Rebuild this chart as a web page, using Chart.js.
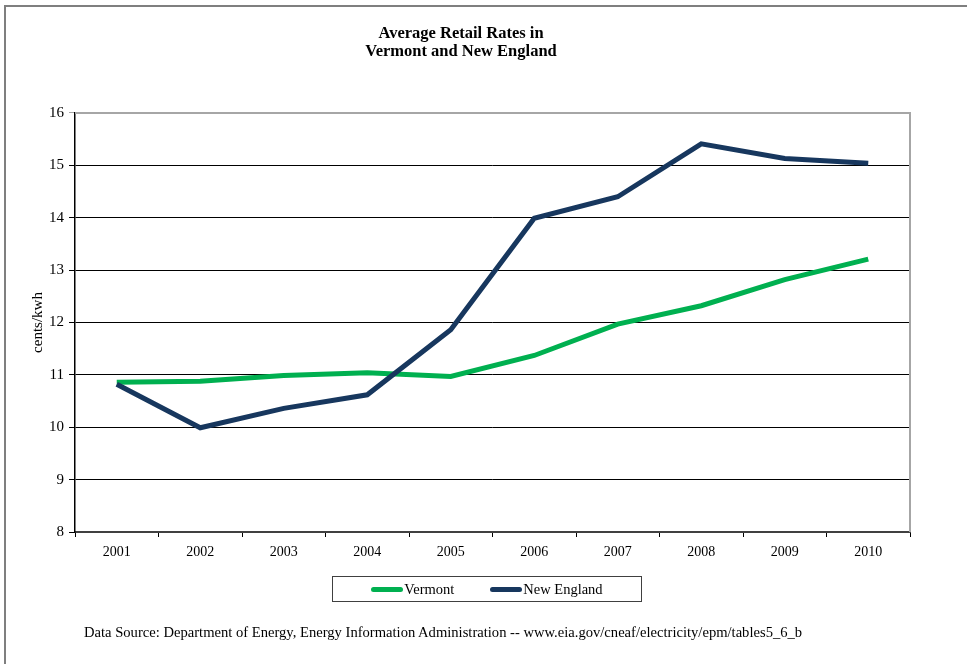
<!DOCTYPE html>
<html>
<head>
<meta charset="utf-8">
<script src="https://cdn.jsdelivr.net/npm/chart.js@4/dist/chart.umd.min.js"></script>
<style>
  body { margin: 0; background: #fff; }
  #wrap { position: relative; width: 967px; height: 664px; overflow: hidden; }
  #frame { position: absolute; left: 4px; top: 5px; width: 1000px; height: 700px;
           border-top: 2px solid #7f7f7f; border-left: 2px solid #7f7f7f; }
  #chart { position: absolute; left: 0; top: 0; }
  #legend { position: absolute; left: 332px; top: 576px; width: 308px; height: 24px;
            border: 1px solid #404040; display: flex; justify-content: center; align-items: center;
            font: 14.5px "Liberation Serif", serif; color: #000; }
  #legend span.sw { display: inline-block; width: 32px; height: 5px; border-radius: 3px; margin-right: 1px; }
  #legend span.item { display: inline-flex; align-items: center; margin: 0 18px; }
  #source { position: absolute; left: 84px; top: 624px; font: 14.6px "Liberation Serif", serif; color: #000;
            white-space: nowrap; }
</style>
</head>
<body>
<div id="wrap">
  <div id="frame"></div>
  <canvas id="chart" width="967" height="664"></canvas>
  <div id="legend"></div>
  <div id="source">Data Source: Department of Energy, Energy Information Administration -- www.eia.gov/cneaf/electricity/epm/tables5_6_b</div>
</div>
<script>
var years = ['2001', '2002', '2003', '2004', '2005', '2006', '2007', '2008', '2009', '2010'];
var vermont = [10.86, 10.88, 10.99, 11.04, 10.97, 11.37, 11.97, 12.32, 12.82, 13.21];
var newEngland = [10.82, 9.99, 10.36, 10.62, 11.86, 13.99, 14.40, 15.41, 15.13, 15.04];
var yMin = 8, yMax = 16, yStep = 1;

// gray border on top and right of the plot area
var plotFrame = {
    id: 'plotFrame',
    beforeDatasetsDraw: function(chart) {
        var a = chart.chartArea, ctx = chart.ctx;
        ctx.save();
        ctx.strokeStyle = '#a6a6a6';
        ctx.lineWidth = 2;
        ctx.beginPath();
        ctx.moveTo(a.left, a.top);
        ctx.lineTo(a.right, a.top);
        ctx.lineTo(a.right, a.bottom);
        ctx.stroke();
        ctx.restore();
    }
};

var ctx = document.getElementById('chart').getContext('2d');
var chart = new Chart(ctx, {
    type: 'line',
    data: {
        labels: years,
        datasets: [
            {
                label: 'Vermont',
                data: vermont,
                borderColor: '#00b050',
                backgroundColor: '#00b050',
                borderWidth: 5,
                pointRadius: 0,
                tension: 0,
                order: 1
            },
            {
                label: 'New England',
                data: newEngland,
                borderColor: '#17375e',
                backgroundColor: '#17375e',
                borderWidth: 5,
                pointRadius: 0,
                tension: 0,
                order: 0
            }
        ]
    },
    options: {
        responsive: false,
        animation: false,
        layout: { padding: { left: 12, right: 57, top: 0, bottom: 102 } },
        scales: {
            x: {
                offset: true,
                afterFit: function(scale) { scale.height = 30; },
                grid: { offset: true, drawOnChartArea: false, tickLength: 5, color: '#000' },
                border: { color: '#404040', width: 2 },
                ticks: { color: '#000', padding: 7, font: { family: 'Liberation Serif', size: 14 } }
            },
            y: {
                min: yMin,
                max: yMax,
                afterFit: function(scale) { scale.width = 63; },
                ticks: { stepSize: yStep, color: '#000', padding: 5, font: { family: 'Liberation Serif', size: 15 } },
                grid: {
                    tickLength: 6,
                    color: function(c) { return c.tick && c.tick.value === yMax ? '#a6a6a6' : '#000'; }
                },
                border: { color: '#000', width: 1.5 },
                title: {
                    display: true,
                    text: 'cents/kwh',
                    color: '#000',
                    padding: { top: 17, bottom: 0 },
                    font: { family: 'Liberation Serif', size: 15 }
                }
            }
        },
        plugins: {
            legend: { display: false },
            tooltip: { enabled: false },
            title: {
                display: true,
                text: ['Average Retail Rates in', 'Vermont and New England'],
                color: '#000',
                padding: { top: 24.5, bottom: 52.5 },
                font: { family: 'Liberation Serif', size: 16.5, weight: 'bold', lineHeight: 1.09 }
            }
        }
    },
    plugins: [plotFrame]
});

// legend built from the chart's datasets
var legendEl = document.getElementById('legend');
chart.data.datasets.forEach(function(ds) {
    var item = document.createElement('span');
    item.className = 'item';
    var sw = document.createElement('span');
    sw.className = 'sw';
    sw.style.background = ds.borderColor;
    item.appendChild(sw);
    item.appendChild(document.createTextNode(ds.label));
    legendEl.appendChild(item);
});
</script>
</body>
</html>
